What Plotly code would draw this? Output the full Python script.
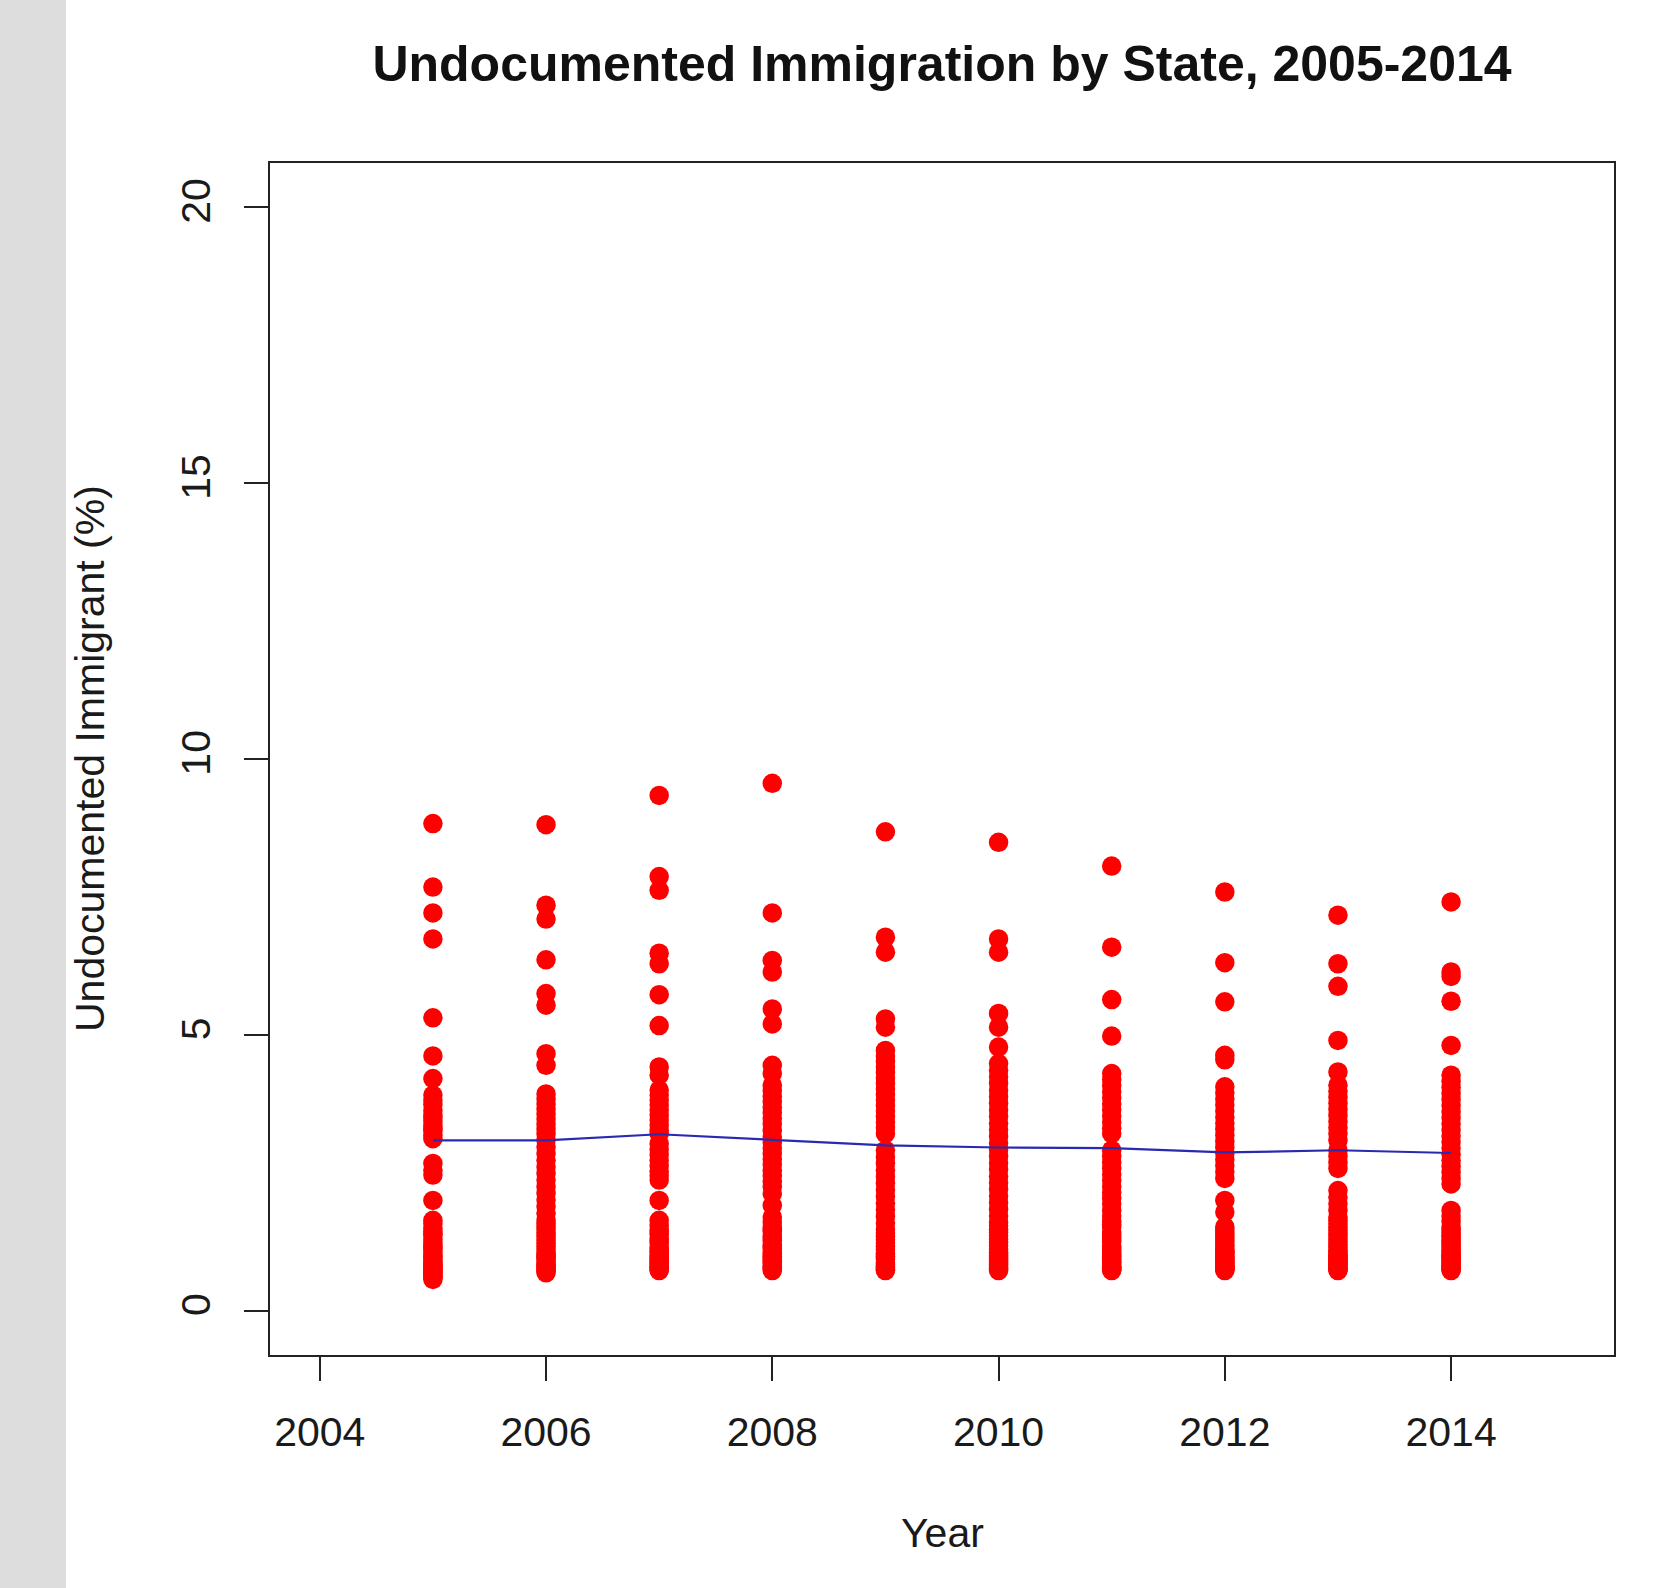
import plotly.graph_objects as go

# ---- data ----
years = [2005, 2006, 2007, 2008, 2009, 2010, 2011, 2012, 2013, 2014]

y2005 = [8.83, 7.68, 7.21, 6.74, 5.31, 4.62, 4.21, 3.91, 3.82, 3.74, 3.63, 3.55, 3.50, 3.44,
         3.36, 3.30, 3.27, 3.18, 3.12, 2.67, 2.55, 2.46, 2.00, 1.64, 1.58, 1.50, 1.44, 1.40,
         1.37, 1.30, 1.24, 1.18, 1.15, 1.12, 1.06, 1.01, 0.98, 0.95, 0.90, 0.86, 0.84, 0.81,
         0.79, 0.77, 0.73, 0.71, 0.69, 0.65, 0.63, 0.61, 0.57]
y2006 = [8.81, 7.35, 7.10, 6.36, 5.75, 5.54, 4.66, 4.45, 3.93, 3.84, 3.75, 3.66, 3.57, 3.48,
         3.39, 3.30, 3.21, 3.09, 2.97, 2.85, 2.73, 2.61, 2.49, 2.37, 2.25, 2.13, 2.01, 1.89,
         1.77, 1.65, 1.59, 1.53, 1.47, 1.41, 1.35, 1.29, 1.23, 1.17, 1.11, 1.05, 1.02, 0.99,
         0.96, 0.93, 0.87, 0.84, 0.81, 0.78, 0.75, 0.72, 0.69]
y2007 = [9.34, 7.87, 7.62, 6.48, 6.29, 5.73, 5.17, 4.42, 4.27, 4.00, 3.91, 3.82, 3.73, 3.64,
         3.55, 3.46, 3.37, 3.27, 3.21, 3.03, 2.93, 2.83, 2.73, 2.63, 2.53, 2.45, 2.37, 2.00,
         1.64, 1.55, 1.47, 1.43, 1.39, 1.31, 1.27, 1.23, 1.15, 1.12, 1.08, 1.05, 1.01, 0.98,
         0.95, 0.92, 0.89, 0.87, 0.84, 0.81, 0.79, 0.75, 0.73]
y2008 = [9.56, 7.21, 6.35, 6.14, 5.47, 5.20, 4.45, 4.30, 4.09, 3.99, 3.89, 3.79, 3.69, 3.59,
         3.49, 3.39, 3.27, 3.15, 3.05, 2.95, 2.85, 2.75, 2.65, 2.55, 2.45, 2.35, 2.25, 2.12,
         1.91, 1.70, 1.61, 1.52, 1.48, 1.44, 1.36, 1.32, 1.28, 1.20, 1.16, 1.13, 1.06, 1.02,
         0.99, 0.96, 0.93, 0.90, 0.87, 0.82, 0.79, 0.77, 0.73]
y2009 = [8.68, 6.77, 6.50, 5.29, 5.14, 4.72, 4.62, 4.52, 4.42, 4.32, 4.22, 4.12, 4.02, 3.92,
         3.82, 3.72, 3.62, 3.52, 3.42, 3.32, 3.21, 2.91, 2.79, 2.67, 2.55, 2.43, 2.31, 2.19,
         2.07, 1.95, 1.83, 1.71, 1.59, 1.47, 1.41, 1.35, 1.29, 1.23, 1.17, 1.11, 1.05, 1.02,
         0.99, 0.96, 0.93, 0.87, 0.84, 0.81, 0.78, 0.75, 0.73]
y2010 = [8.49, 6.74, 6.50, 5.39, 5.14, 4.78, 4.48, 4.36, 4.24, 4.12, 4.00, 3.88, 3.76, 3.64,
         3.52, 3.40, 3.28, 3.16, 3.04, 2.92, 2.80, 2.68, 2.56, 2.44, 2.32, 2.20, 2.08, 1.96,
         1.84, 1.72, 1.60, 1.54, 1.48, 1.42, 1.36, 1.30, 1.24, 1.18, 1.12, 1.06, 1.03, 1.00,
         0.97, 0.94, 0.91, 0.88, 0.85, 0.82, 0.79, 0.76, 0.73]
y2011 = [8.06, 6.59, 5.64, 4.98, 4.30, 4.19, 4.08, 3.97, 3.86, 3.75, 3.64, 3.53, 3.42, 3.31,
         3.21, 2.91, 2.80, 2.69, 2.58, 2.47, 2.36, 2.25, 2.14, 2.04, 1.94, 1.82, 1.72, 1.62,
         1.57, 1.52, 1.43, 1.38, 1.34, 1.29, 1.25, 1.17, 1.13, 1.09, 1.05, 1.02, 0.99, 0.95,
         0.92, 0.89, 0.87, 0.84, 0.81, 0.79, 0.77, 0.75, 0.73]
y2012 = [7.59, 6.31, 5.60, 4.63, 4.55, 4.06, 3.95, 3.84, 3.73, 3.62, 3.51, 3.40, 3.29, 3.18,
         3.07, 2.96, 2.85, 2.74, 2.63, 2.52, 2.40, 2.00, 1.79, 1.52, 1.47, 1.43, 1.38, 1.34,
         1.29, 1.25, 1.20, 1.16, 1.12, 1.08, 1.06, 1.04, 1.00, 0.98, 0.96, 0.94, 0.93, 0.90,
         0.87, 0.86, 0.84, 0.82, 0.80, 0.79, 0.77, 0.75, 0.73]
y2013 = [7.17, 6.29, 5.88, 4.90, 4.33, 4.09, 3.98, 3.87, 3.76, 3.65, 3.54, 3.43, 3.32, 3.21,
         3.09, 2.91, 2.80, 2.69, 2.58, 2.18, 2.06, 1.94, 1.82, 1.70, 1.64, 1.58, 1.52, 1.46,
         1.40, 1.35, 1.30, 1.25, 1.20, 1.15, 1.10, 1.06, 1.02, 1.00, 0.98, 0.96, 0.94, 0.91,
         0.88, 0.86, 0.85, 0.83, 0.80, 0.78, 0.76, 0.75, 0.73]
y2014 = [7.41, 6.14, 6.06, 5.61, 4.81, 4.27, 4.16, 4.05, 3.94, 3.83, 3.72, 3.61, 3.50, 3.39,
         3.28, 3.17, 3.06, 2.95, 2.84, 2.73, 2.62, 2.51, 2.40, 2.30, 1.82, 1.72, 1.62, 1.52,
         1.47, 1.42, 1.37, 1.33, 1.28, 1.24, 1.20, 1.16, 1.12, 1.08, 1.04, 1.01, 0.99, 0.97,
         0.94, 0.91, 0.88, 0.85, 0.83, 0.80, 0.78, 0.75, 0.73]

state_values = [y2005, y2006, y2007, y2008, y2009, y2010, y2011, y2012, y2013, y2014]

# yearly average line
mean_values = [3.09, 3.09, 3.20, 3.10, 3.00, 2.96, 2.95, 2.87, 2.91, 2.86]

x_ticks = [2004, 2006, 2008, 2010, 2012, 2014]
y_ticks = [0, 5, 10, 15, 20]

title_text = "Undocumented Immigration by State, 2005-2014"
x_title = "Year"
y_title = "Undocumented Immigrant (%)"

# ---- figure ----
pts_x, pts_y = [], []
for yr, vals in zip(years, state_values):
    pts_x.extend([yr] * len(vals))
    pts_y.extend(vals)

FONT = "Arial, Liberation Sans, Helvetica, sans-serif"
TXT = "#1a1a1a"

fig = go.Figure()
fig.add_trace(go.Scatter(x=pts_x, y=pts_y, mode="markers",
                         marker=dict(size=19.5, color="#ff0000", line=dict(width=0)),
                         showlegend=False, hoverinfo="x+y"))
fig.add_trace(go.Scatter(x=years, y=mean_values, mode="lines",
                         line=dict(color="#2a2ab0", width=2.2),
                         showlegend=False))

W, H = 1660, 1588
L, R, T, B = 270, 46, 163, 233
pw, ph = W - L - R, H - T - B

fig.update_layout(
    width=W, height=H,
    margin=dict(l=L, r=R, t=T, b=B, pad=0),
    paper_bgcolor="white", plot_bgcolor="white",
    font=dict(family=FONT, color=TXT, size=41),
    title=dict(text="<b>" + title_text + "</b>", x=0.5, xref="paper", xanchor="center",
               y=1 - 63.5 / H, yref="container", yanchor="middle",
               font=dict(family=FONT, size=50, color="#111111")),
    xaxis=dict(range=[2003.56, 2015.44], tickmode="array", tickvals=x_ticks,
               ticktext=[str(v) for v in x_ticks],
               ticks="outside", ticklen=24, tickwidth=2, tickcolor="#222222",
               showline=True, linecolor="#222222", linewidth=2, mirror=True,
               showgrid=False, zeroline=False, ticklabelstandoff=16,
               tickfont=dict(family=FONT, size=41, color=TXT)),
    yaxis=dict(range=[-0.8, 20.8], tickmode="array", tickvals=y_ticks,
               ticktext=[str(v) for v in y_ticks], tickangle=-90,
               ticks="outside", ticklen=24, tickwidth=2, tickcolor="#222222",
               showline=True, linecolor="#222222", linewidth=2, mirror=True,
               showgrid=False, zeroline=False, ticklabelstandoff=18,
               tickfont=dict(family=FONT, size=41, color=TXT)),
    shapes=[dict(type="rect", xref="paper", yref="paper",
                 x0=-L / pw, x1=-(L - 66) / pw, y0=-B / ph, y1=1 + T / ph,
                 fillcolor="#dddddd", line=dict(width=0), layer="below")],
    annotations=[
        dict(text=x_title, xref="paper", yref="paper", x=0.5, y=-(1533 - (H - B)) / ph,
             xanchor="center", yanchor="middle", showarrow=False,
             font=dict(family=FONT, size=41, color=TXT)),
        dict(text=y_title, xref="paper", yref="paper", x=-(L - 90) / pw, y=0.5,
             xanchor="center", yanchor="middle", textangle=-90, showarrow=False,
             font=dict(family=FONT, size=41, color=TXT)),
    ],
)

fig.write_html("out.html")
